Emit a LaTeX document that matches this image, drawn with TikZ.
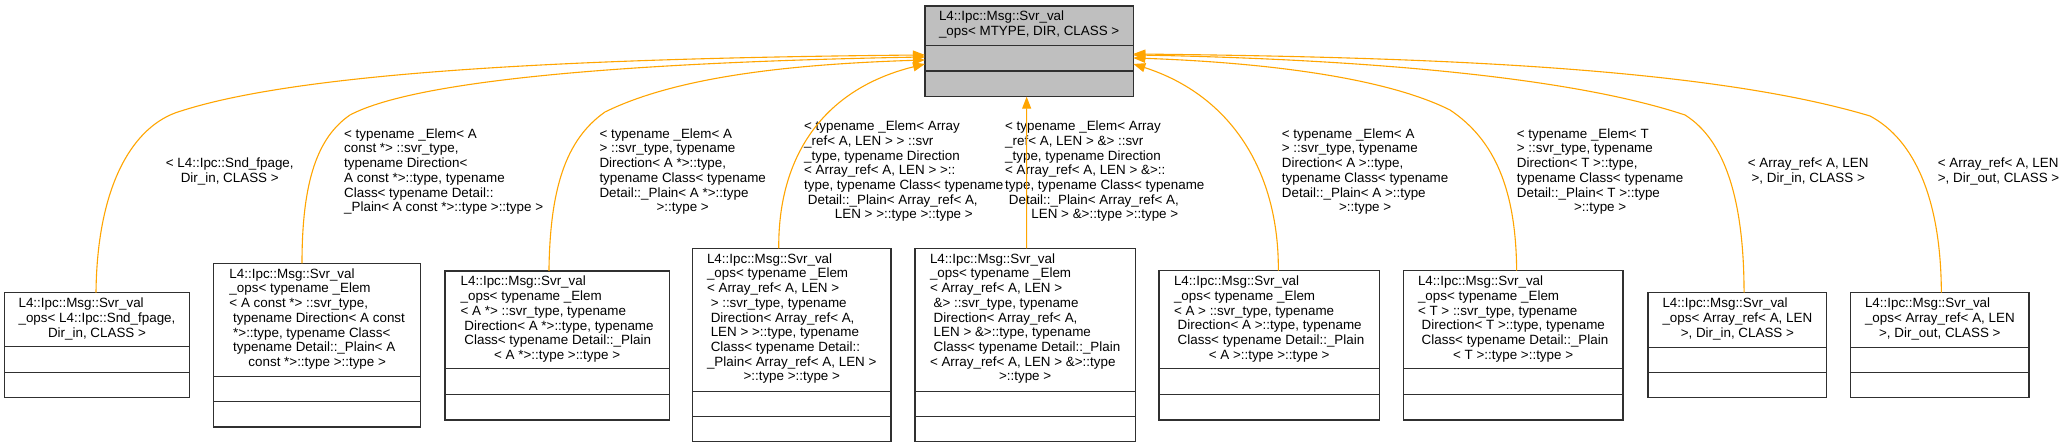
\documentclass[tikz,border=0pt]{standalone}
\usepackage{fontspec}
\setmainfont{Liberation Sans}
\usetikzlibrary{arrows.meta}
\definecolor{edgeorange}{HTML}{FFA500}
\definecolor{topgray}{HTML}{BFBFBF}
\definecolor{boxline}{HTML}{303030}
\newcommand{\lastc}[1]{\multicolumn{1}{@{}c@{}}{#1}}
\newcommand{\cltext}[1]{\begin{tabular}[t]{@{}l@{}}#1\end{tabular}}
\begin{document}
\begin{tikzpicture}[x=1bp,y=-1bp,
  every node/.style={font=\fontsize{13.4bp}{14.7bp}\selectfont},
  cls/.style={draw=boxline, line width=1.2bp, fill=white, inner sep=0pt, outer sep=0pt, rectangle},
  topcls/.style={cls, fill=topgray},
  ttl/.style={anchor=base, inner sep=0pt},
  lbl/.style={anchor=base west, inner sep=0pt},
  divider/.style={draw=boxline, line width=1.2bp},
  inh/.style={draw=edgeorange, line width=1.1bp, -{Triangle[length=12bp,width=9bp,fill=edgeorange]}}]
\fill[white] (0,0) rectangle (2069,448);
\useasboundingbox (0,0) rectangle (2069,448);

% top class
\node[topcls, minimum width=208.3bp, minimum height=90.7bp] (top) at (1029.15,51.35) {};
\node[ttl] (ttop) at ([yshift=-15bp]top.north) {\cltext{L4::Ipc::Msg::Svr\_val\\ \lastc{\_ops< MTYPE, DIR, CLASS >}}};
\draw[divider] ([yshift=-39.7bp]top.north west) -- ([yshift=-39.7bp]top.north east);
\draw[divider] ([yshift=25.7bp]top.south west) -- ([yshift=25.7bp]top.south east);

% c1
\node[cls, minimum width=184.6bp, minimum height=105bp] (c1) at (97,345.2) {};
\node[ttl] (t1) at ([yshift=-15bp]c1.north) {\cltext{L4::Ipc::Msg::Svr\_val\\
\_ops< L4::Ipc::Snd\_fpage,\\ \lastc{Dir\_in, CLASS >}}};
\draw[divider] ([yshift=-54bp]c1.north west) -- ([yshift=-54bp]c1.north east);
\draw[divider] ([yshift=25.3bp]c1.south west) -- ([yshift=25.3bp]c1.south east);

% c2
\node[cls, minimum width=207bp, minimum height=163.7bp] (c2) at (317.2,345.15) {};
\node[ttl] (t2) at ([yshift=-15bp]c2.north) {\cltext{L4::Ipc::Msg::Svr\_val\\
\_ops< typename \_Elem\\
< A const *> ::svr\_type,\\
\ typename Direction< A const\\
\ *>::type, typename Class<\\
\ typename Detail::\_Plain< A\\
\lastc{const *>::type >::type >}}};
\draw[divider] ([yshift=-113.4bp]c2.north west) -- ([yshift=-113.4bp]c2.north east);
\draw[divider] ([yshift=25.3bp]c2.south west) -- ([yshift=25.3bp]c2.south east);

% c3
\node[cls, minimum width=224.3bp, minimum height=149bp] (c3) at (557.15,345.5) {};
\node[ttl] (t3) at ([yshift=-15bp]c3.north) {\cltext{L4::Ipc::Msg::Svr\_val\\
\_ops< typename \_Elem\\
< A *> ::svr\_type, typename\\
\ Direction< A *>::type, typename\\
\ Class< typename Detail::\_Plain\\
\lastc{< A *>::type >::type >}}};
\draw[divider] ([yshift=-97.7bp]c3.north west) -- ([yshift=-97.7bp]c3.north east);
\draw[divider] ([yshift=25.3bp]c3.south west) -- ([yshift=25.3bp]c3.south east);

% c4
\node[cls, minimum width=198.5bp, minimum height=193.4bp] (c4) at (791.75,345) {};
\node[ttl] (t4) at ([yshift=-15bp]c4.north) {\cltext{L4::Ipc::Msg::Svr\_val\\
\_ops< typename \_Elem\\
< Array\_ref< A, LEN >\\
\ > ::svr\_type, typename\\
\ Direction< Array\_ref< A,\\
\ LEN > >::type, typename\\
\ Class< typename Detail::\\
\_Plain< Array\_ref< A, LEN >\\
\lastc{>::type >::type >}}};
\draw[divider] ([yshift=-143.4bp]c4.north west) -- ([yshift=-143.4bp]c4.north east);
\draw[divider] ([yshift=25.3bp]c4.south west) -- ([yshift=25.3bp]c4.south east);

% c5
\node[cls, minimum width=220.3bp, minimum height=193.4bp] (c5) at (1025.15,345) {};
\node[ttl] (t5) at ([yshift=-15bp]c5.north) {\cltext{L4::Ipc::Msg::Svr\_val\\
\_ops< typename \_Elem\\
< Array\_ref< A, LEN >\\
\ \&> ::svr\_type, typename\\
\ Direction< Array\_ref< A,\\
\ LEN > \&>::type, typename\\
\ Class< typename Detail::\_Plain\\
< Array\_ref< A, LEN > \&>::type\\
\lastc{>::type >}}};
\draw[divider] ([yshift=-143.4bp]c5.north west) -- ([yshift=-143.4bp]c5.north east);
\draw[divider] ([yshift=25.3bp]c5.south west) -- ([yshift=25.3bp]c5.south east);

% c6
\node[cls, minimum width=220.3bp, minimum height=149.3bp] (c6) at (1269.15,345.35) {};
\node[ttl] (t6) at ([yshift=-15bp]c6.north) {\cltext{L4::Ipc::Msg::Svr\_val\\
\_ops< typename \_Elem\\
< A > ::svr\_type, typename\\
\ Direction< A >::type, typename\\
\ Class< typename Detail::\_Plain\\
\lastc{< A >::type >::type >}}};
\draw[divider] ([yshift=-98bp]c6.north west) -- ([yshift=-98bp]c6.north east);
\draw[divider] ([yshift=25.3bp]c6.south west) -- ([yshift=25.3bp]c6.south east);

% c7
\node[cls, minimum width=219.7bp, minimum height=149.3bp] (c7) at (1513.15,345.35) {};
\node[ttl] (t7) at ([yshift=-15bp]c7.north) {\cltext{L4::Ipc::Msg::Svr\_val\\
\_ops< typename \_Elem\\
< T > ::svr\_type, typename\\
\ Direction< T >::type, typename\\
\ Class< typename Detail::\_Plain\\
\lastc{< T >::type >::type >}}};
\draw[divider] ([yshift=-98bp]c7.north west) -- ([yshift=-98bp]c7.north east);
\draw[divider] ([yshift=25.3bp]c7.south west) -- ([yshift=25.3bp]c7.south east);

% c8
\node[cls, minimum width=178.7bp, minimum height=105bp] (c8) at (1737.35,345.2) {};
\node[ttl] (t8) at ([yshift=-15bp]c8.north) {\cltext{L4::Ipc::Msg::Svr\_val\\
\_ops< Array\_ref< A, LEN\\ \lastc{>, Dir\_in, CLASS >}}};
\draw[divider] ([yshift=-54.6bp]c8.north west) -- ([yshift=-54.6bp]c8.north east);
\draw[divider] ([yshift=25.3bp]c8.south west) -- ([yshift=25.3bp]c8.south east);

% c9
\node[cls, minimum width=178.3bp, minimum height=105bp] (c9) at (1939.85,345.2) {};
\node[ttl] (t9) at ([yshift=-15bp]c9.north) {\cltext{L4::Ipc::Msg::Svr\_val\\
\_ops< Array\_ref< A, LEN\\ \lastc{>, Dir\_out, CLASS >}}};
\draw[divider] ([yshift=-54.6bp]c9.north west) -- ([yshift=-54.6bp]c9.north east);
\draw[divider] ([yshift=25.3bp]c9.south west) -- ([yshift=25.3bp]c9.south east);

% edge labels
\node[lbl] (l1) at (165.7,168) {\cltext{< L4::Ipc::Snd\_fpage,\\ \lastc{Dir\_in, CLASS >}}};
\node[lbl] (l2) at (344,138.3) {\cltext{< typename \_Elem< A\\
const *> ::svr\_type,\\
typename Direction<\\
A const *>::type, typename\\
Class< typename Detail::\\
\lastc{\_Plain< A const *>::type >::type >}}};
\node[lbl] (l3) at (599.3,138.3) {\cltext{< typename \_Elem< A\\
*> ::svr\_type, typename\\
Direction< A *>::type,\\
typename Class< typename\\
Detail::\_Plain< A *>::type\\
\lastc{>::type >}}};
\node[lbl] (l4) at (804,130.7) {\cltext{< typename \_Elem< Array\\
\_ref< A, LEN > > ::svr\\
\_type, typename Direction\\
< Array\_ref< A, LEN > >::\\
type, typename Class< typename\\
\ Detail::\_Plain< Array\_ref< A,\\
\lastc{LEN > >::type >::type >}}};
\node[lbl] (l5) at (1005,130.7) {\cltext{< typename \_Elem< Array\\
\_ref< A, LEN > \&> ::svr\\
\_type, typename Direction\\
< Array\_ref< A, LEN > \&>::\\
type, typename Class< typename\\
\ Detail::\_Plain< Array\_ref< A,\\
\lastc{LEN > \&>::type >::type >}}};
\node[lbl] (l6) at (1281.7,138.3) {\cltext{< typename \_Elem< A\\
> ::svr\_type, typename\\
Direction< A >::type,\\
typename Class< typename\\
Detail::\_Plain< A >::type\\
\lastc{>::type >}}};
\node[lbl] (l7) at (1516.7,138.3) {\cltext{< typename \_Elem< T\\
> ::svr\_type, typename\\
Direction< T >::type,\\
typename Class< typename\\
Detail::\_Plain< T >::type\\
\lastc{>::type >}}};
\node[lbl] (l8) at (1747.7,168) {\cltext{< Array\_ref< A, LEN\\ \lastc{>, Dir\_in, CLASS >}}};
\node[lbl] (l9) at (1937.7,168) {\cltext{< Array\_ref< A, LEN\\ \lastc{>, Dir\_out, CLASS >}}};

% connectors
\draw[inh] ([xshift=-1bp]c1.north) .. controls (97,190) and (130,130) .. (175,113)
  .. controls (300,70) and (600,58) .. ([yshift=-3.6bp]top.west);
\draw[inh] ([xshift=-15.2bp]c2.north) .. controls (302,180) and (318,137) .. (350,115)
  .. controls (420,78) and (650,62) .. ([yshift=-5.6bp]top.west);
\draw[inh] ([xshift=-8.2bp]c3.north) .. controls (550,190) and (565,140) .. (605,112)
  .. controls (680,75) and (800,64) .. ([yshift=-8.6bp]top.west);
\draw[inh] ([xshift=-13bp]c4.north) .. controls (778,160) and (820,90) .. ([yshift=-12.6bp]top.west);
\draw[inh] ([xshift=1.5bp]c5.north) -- ([xshift=-2.5bp]top.south);
\draw[inh] ([xshift=9.2bp]c6.north) .. controls (1279,170) and (1230,95) .. ([yshift=-12.6bp]top.east);
\draw[inh] ([xshift=3.5bp]c7.north) .. controls (1516,190) and (1495,140) .. (1450,110)
  .. controls (1380,75) and (1250,62) .. ([yshift=-6.6bp]top.east);
\draw[inh] ([xshift=6.7bp]c8.north) .. controls (1744,200) and (1725,140) .. (1685,115)
  .. controls (1550,70) and (1300,58) .. ([yshift=-3.6bp]top.east);
\draw[inh] ([xshift=1.5bp]c9.north) .. controls (1941,200) and (1915,140) .. (1870,116)
  .. controls (1700,65) and (1400,57) .. ([yshift=-2.6bp]top.east);
\end{tikzpicture}
\end{document}
